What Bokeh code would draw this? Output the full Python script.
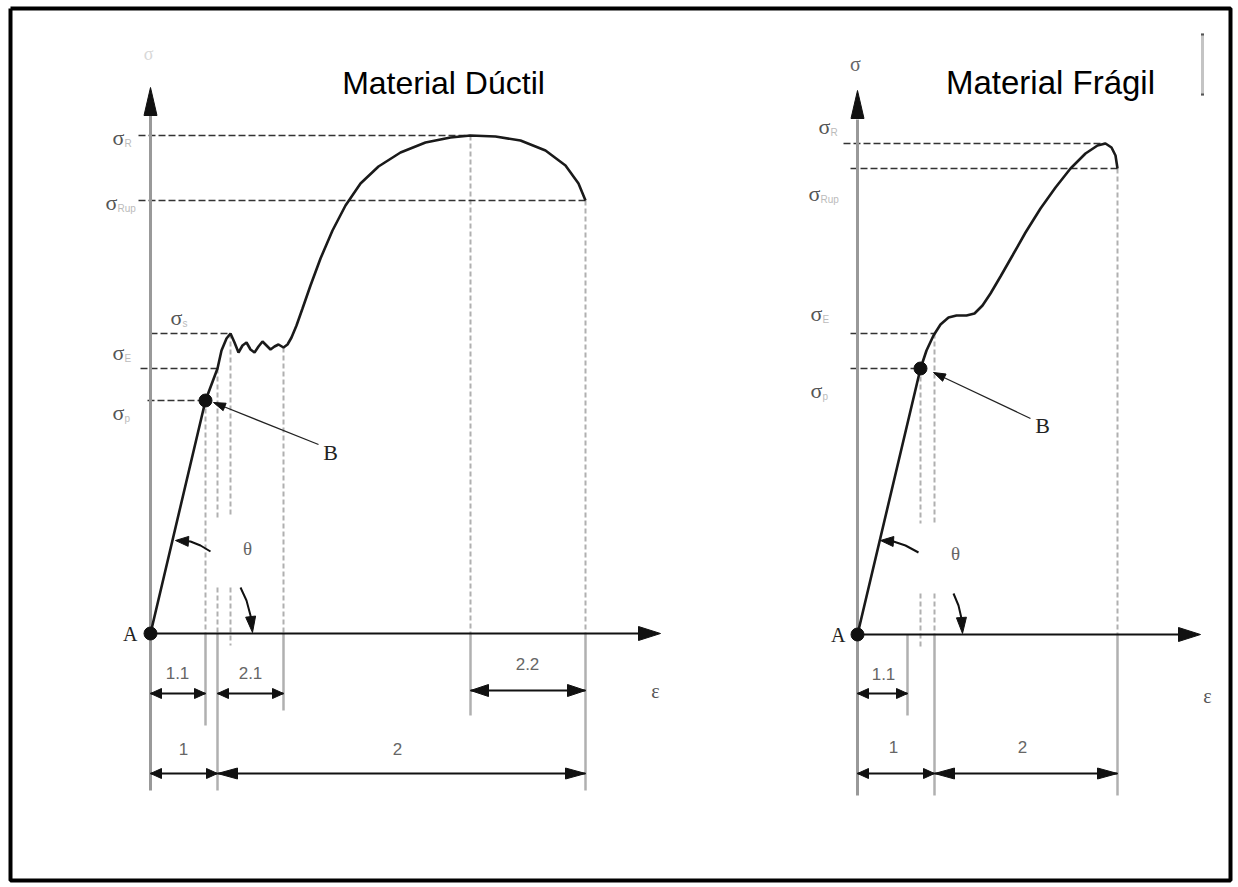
import math
from bokeh.plotting import figure
from bokeh.models import Range1d, Label
from bokeh.embed import file_html
from bokeh.resources import INLINE

# ---------------- DATA ----------------
# Ductile material: strain (arbitrary units) / stress (arbitrary units)
duct_eps = [0, 2.75, 3.35, 3.55, 3.8, 4.0, 4.2, 4.4, 4.6, 4.8, 5.0, 5.2, 5.4, 5.6, 5.8, 6.0, 6.2,
            6.4, 6.65, 6.85, 7.05, 7.3, 7.6, 8.0, 8.5, 9.1, 9.75, 10.5, 11.4, 12.5, 13.75, 15.0,
            16.0, 17.25, 18.5, 19.75, 20.75, 21.4, 21.75]
duct_sig = [0, 46.6, 53.0, 56.6, 59.0, 60.0, 58.2, 56.2, 57.6, 58.2, 56.8, 56.2, 57.4, 58.4, 57.6,
            56.8, 57.4, 57.8, 57.2, 57.8, 59.2, 61.6, 65.0, 69.6, 75.0, 80.6, 85.6, 90.0, 93.4,
            96.2, 98.2, 99.2, 99.6, 99.4, 98.6, 96.6, 93.6, 90.0, 86.6]
duct_levels = [99.6, 86.6, 60.0, 53.0, 46.6]          # sigma_R, sigma_Rup, sigma_s, sigma_E, sigma_p
duct_level_subs = ["R", "Rup", "s", "E", "p"]
duct_level_eps = [16.0, 21.75, 4.0, 3.35, 2.75]       # where each level line ends
duct_marks = [2.75, 3.35, 4.0, 6.65, 16.0, 21.75]     # B, E, s, end of yield, R, rupture

# Fragile material
frag_eps = [0, 3.15, 3.45, 3.8, 4.15, 4.55, 4.95, 5.45, 5.85, 6.25, 6.65, 7.15, 7.75, 8.4, 9.15,
            9.9, 10.65, 11.4, 12.0, 12.4, 12.7, 12.9, 13.0]
frag_sig = [0, 53.2, 56.8, 59.8, 62.0, 63.4, 63.8, 63.8, 64.2, 65.8, 68.2, 71.6, 75.8, 80.4, 85.2,
            89.4, 93.2, 96.2, 97.8, 98.2, 97.4, 95.8, 93.2]
frag_levels = [98.2, 93.2, 60.2, 53.2]                # sigma_R, sigma_Rup, sigma_E, sigma_p
frag_level_subs = ["R", "Rup", "E", "p"]
frag_level_eps = [12.4, 13.0, 3.85, 3.15]
frag_marks = [2.5, 3.15, 3.85, 13.0]                  # 1.1 limit, B, E, rupture

dim_labels_duct = ["1.1", "2.1", "2.2", "1", "2"]
dim_labels_frag = ["1.1", "1", "2"]
titles = ["Material Dúctil", "Material Frágil"]

# ---------------- LAYOUT ----------------
W, H = 1238, 887
SX, SY = 20.0, 5.0                       # px per unit
ORIG = {"d": (150, 633), "f": (857, 634)}

p = figure(width=W, height=H, x_range=Range1d(0, W), y_range=Range1d(H, 0),
           output_backend="svg", toolbar_location=None, min_border=0,
           x_axis_location=None, y_axis_location=None)
p.grid.visible = False
p.outline_line_color = None
p.background_fill_color = "white"
p.border_fill_color = "white"

for k, (ox, oy) in ORIG.items():
    p.extra_x_ranges[k + "x"] = Range1d(-ox / SX, (W - ox) / SX)
    p.extra_y_ranges[k + "y"] = Range1d((oy - H) / SY, oy / SY)

SERIF = "Liberation Serif"
SANS = "Liberation Sans"
GRAY = "#b0b0b0"


def R(k):
    return dict(x_range_name=k + "x", y_range_name=k + "y")


def L(k, xs, ys, **kw):
    p.line(xs, ys, **R(k), **kw)


def head(k, tail, tip, length=14, width=10, color="#111"):
    dx = (tip[0] - tail[0]) * SX
    dy = (tip[1] - tail[1]) * SY
    n = math.hypot(dx, dy)
    ux, uy = dx / n, dy / n
    px, py = -uy, ux
    pts = [(0, 0),
           (-ux * length + px * width / 2, -uy * length + py * width / 2),
           (-ux * length - px * width / 2, -uy * length - py * width / 2)]
    xs = [tip[0] + a / SX for a, _ in pts]
    ys = [tip[1] + b / SY for _, b in pts]
    p.patch(xs, ys, color=color, **R(k))


def dim(k, x0, x1, y, length=12, width=10):
    L(k, [x0, x1], [y, y], line_color="#111", line_width=2)
    head(k, (x1, y), (x0, y), length, width)
    head(k, (x0, y), (x1, y), length, width)


def T(k, x, y, text, size, color, font=SERIF, align="left", baseline="middle"):
    p.add_layout(Label(x=x, y=y, text=text, text_font=font, text_font_size=f"{size}px",
                       text_color=color, text_align=align, text_baseline=baseline, **R(k)))


def vdash(k, x, y0, y1):
    L(k, [x, x], [y0, y1], line_color=GRAY, line_width=2, line_dash="5 3")


def vsolid(k, x, y0, y1):
    L(k, [x, x], [y0, y1], line_color=GRAY, line_width=2.5)


def hdash(k, x0, x1, y):
    L(k, [x0, x1], [y, y], line_color="#333", line_width=1.4, line_dash="7 3")


# ================= DUCTILE =================
k = "d"
e_p, e_E, e_s, e_y, e_R, e_u = duct_marks
s_R, s_Rup, s_s, s_E, s_p = duct_levels
vdash(k, e_p, s_p, 0); vsolid(k, e_p, 0, -18.4)
vdash(k, e_E, s_E, 23.2); vdash(k, e_E, 9.2, 0); vsolid(k, e_E, 0, -31.4)
vdash(k, e_s, s_s, 23.2); vdash(k, e_s, 9.2, -2.4)
vdash(k, e_y, 57.2, 0); vsolid(k, e_y, 0, -15.4)
vdash(k, e_R, s_R, 0); vsolid(k, e_R, 0, -16.4)
vdash(k, e_u, s_Rup, 0); vsolid(k, e_u, 0, -31.4)
hstart_d = [-0.6, -0.6, 0.0, -0.5, -0.15]
for lv, x0, x1 in zip(duct_levels, hstart_d, duct_level_eps):
    hdash(k, x0, x1, lv)
L(k, [0, 0], [-31.4, 104], line_color="#999", line_width=3)
head(k, (0, 90), (0, 109.2), length=28, width=13)
L(k, [0, 24.5], [0, 0], line_color="#111", line_width=2)
head(k, (20, 0), (25.5, 0), length=22, width=14)
L(k, duct_eps, duct_sig, line_color="#1a1a1a", line_width=2.6)
p.scatter([0, e_p], [0, s_p], size=13, color="#111", **R(k))
L(k, [8.4, 3.4], [37.8, 45.8], line_color="#222", line_width=1.3)
head(k, (8.4, 37.8), (3.15, 46.2), length=12, width=8)
L(k, [3.0, 2.5, 2.0, 1.5], [16.4, 17.6, 18.4, 18.6], line_color="#111", line_width=2)
head(k, (2.0, 18.4), (1.25, 18.6), length=13, width=10)
L(k, [4.5, 4.8, 5.0, 5.08], [9.2, 6.6, 3.6, 2.0], line_color="#111", line_width=2)
head(k, (5.0, 3.6), (5.1, 0.2), length=16, width=10)
dim(k, 0, e_p, -12, 11, 10)
dim(k, e_E, e_y, -12, 11, 10)
dim(k, e_R, e_u, -11.4, 18, 12)
dim(k, 0, e_E, -28, 11, 10)
dim(k, e_E, e_u, -28, 20, 11)
for lab, x, y in zip(dim_labels_duct, [1.35, 5.0, 18.85, 1.65, 12.35], [-7.8, -7.8, -6.0, -23.0, -23.0]):
    T(k, x, y, lab, 17, "#666", font=SANS, align="center")
sig_pos_d = [(-1.9, 99.2), (-2.25, 86.2), (1.0, 63.2), (-1.9, 56.2), (-1.9, 44.2)]
for sub, (x, y) in zip(duct_level_subs, sig_pos_d):
    T(k, x, y, "σ", 22, "#555")
    T(k, x + 0.6, y - 1.2, sub, 10, "#bbb", font=SANS)
T(k, -0.1, 116.0, "σ", 18, "#d8d8d8", align="center")
T(k, -0.65, 0, "A", 20, "#222", align="right")
T(k, 9.0, 36.2, "B", 22, "#222", align="center")
T(k, 4.85, 17.0, "θ", 19, "#666", align="center")
T(k, 25.25, -11.4, "ε", 20, "#555", align="center")

# ================= FRAGILE =================
k = "f"
f_11, f_p, f_E, f_u = frag_marks
fs_R, fs_Rup, fs_E, fs_p = frag_levels
vsolid(k, f_11, 0, -16.2)
vdash(k, f_p, fs_p, 22.2); vdash(k, f_p, 8.2, -2.6)
vdash(k, f_E, fs_E, 22.2); vdash(k, f_E, 8.2, 0); vsolid(k, f_E, 0, -32.2)
vdash(k, f_u, fs_Rup, 0); vsolid(k, f_u, 0, -32.2)
hstart_f = [-0.7, -0.35, -0.35, -0.35]
for lv, x0, x1 in zip(frag_levels, hstart_f, frag_level_eps):
    hdash(k, x0, x1, lv)
L(k, [0, 0], [-32.2, 103], line_color="#999", line_width=3)
head(k, (0, 90), (0, 108.8), length=28, width=13)
L(k, [0, 16.5], [0, 0], line_color="#111", line_width=2)
head(k, (12, 0), (17.15, 0), length=22, width=14)
L(k, frag_eps, frag_sig, line_color="#1a1a1a", line_width=2.6)
p.scatter([0, f_p], [0, fs_p], size=13, color="#111", **R(k))
L(k, [8.65, 4.0], [43.2, 52.0], line_color="#222", line_width=1.3)
head(k, (8.65, 43.2), (3.8, 52.4), length=12, width=8)
L(k, [3.05, 2.4, 1.8, 1.4], [16.4, 17.8, 18.6, 18.75], line_color="#111", line_width=2)
head(k, (1.8, 18.6), (1.15, 18.8), length=13, width=10)
L(k, [4.8, 5.05, 5.2, 5.23], [8.2, 5.8, 3.2, 2.0], line_color="#111", line_width=2)
head(k, (5.2, 3.2), (5.25, 0.2), length=16, width=10)
dim(k, 0, f_11, -11.8, 11, 10)
dim(k, 0, f_E, -27.8, 11, 10)
dim(k, f_E, f_u, -27.8, 20, 11)
for lab, x, y in zip(dim_labels_frag, [1.3, 1.8, 8.25], [-7.8, -22.4, -22.4]):
    T(k, x, y, lab, 17, "#666", font=SANS, align="center")
sig_pos_f = [(-1.95, 101.6), (-2.45, 88.2), (-2.35, 64.2), (-2.35, 48.8)]
for sub, (x, y) in zip(frag_level_subs, sig_pos_f):
    T(k, x, y, "σ", 22, "#555")
    T(k, x + 0.6, y - 1.2, sub, 10, "#bbb", font=SANS)
T(k, -0.1, 114.2, "σ", 20, "#666", align="center")
T(k, -0.6, 0, "A", 20, "#222", align="right")
T(k, 9.25, 41.8, "B", 22, "#222", align="center")
T(k, 4.9, 16.2, "θ", 19, "#666", align="center")
T(k, 17.5, -12.2, "ε", 20, "#555", align="center")

# ================= TITLES & DECOR =================
for t, x, fs in zip(titles, [443, 1050], ["32px", "33px"]):
    p.add_layout(Label(x=x, y=82, text=t, text_font=SANS, text_font_size=fs,
                       text_color="black", text_align="center", text_baseline="middle"))
# outer frame
p.line([10, 1230, 1230, 10, 10], [8, 8, 880, 880, 8], line_color="black", line_width=4)
p.segment(x0=[1202], y0=[33], x1=[1202], y1=[95], line_color="#c4c4c4", line_width=3)
p.segment(x0=[1202, 1202], y0=[33, 93], x1=[1202, 1202], y1=[35, 95], line_color="#555", line_width=3)

open("out.html", "w").write(file_html(p, INLINE))
